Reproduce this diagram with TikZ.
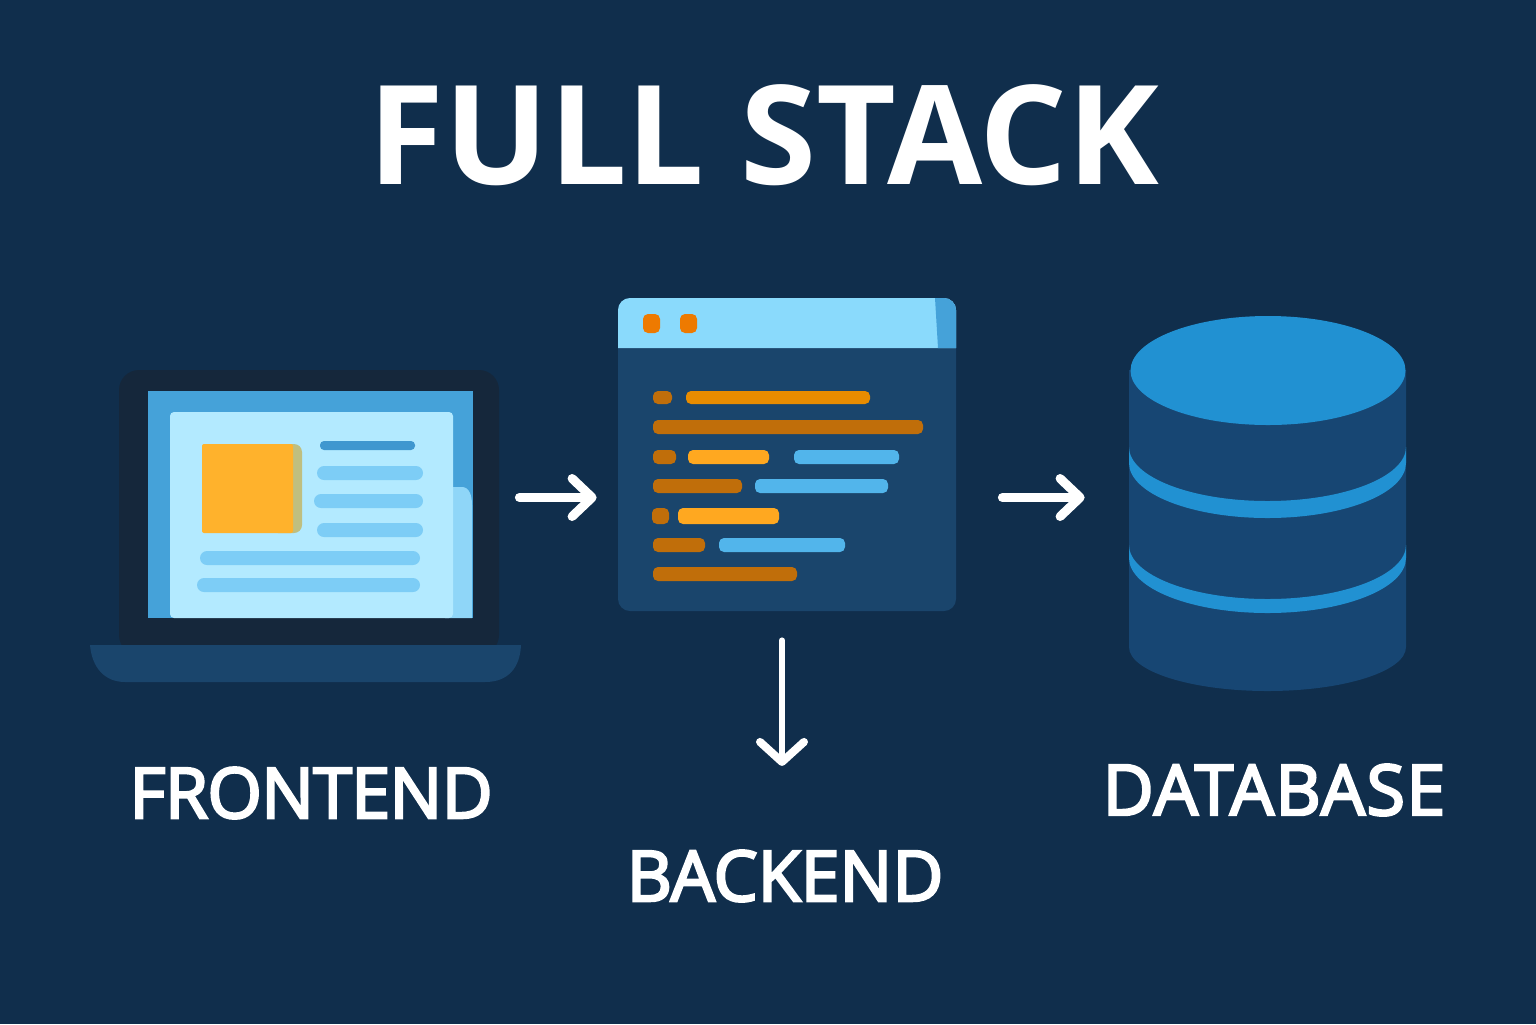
\documentclass[tikz,border=0pt]{standalone}
\usepackage{fontspec}
\setsansfont{Open Sans}[FakeBold=3.5]
\newfontfamily\titlefont{Open Sans}[BoldFont={Open Sans Bold}]
\definecolor{bgblue}{RGB}{16, 46, 76}
\definecolor{lidgray}{RGB}{21, 39, 59}
\definecolor{panelblue}{RGB}{26, 69, 108}
\definecolor{dbbody}{RGB}{23, 70, 115}
\definecolor{dbtop}{RGB}{33, 145, 210}
\definecolor{screenblue}{RGB}{69, 162, 217}
\definecolor{pageblue}{RGB}{179, 234, 255}
\definecolor{stripblue}{RGB}{143, 214, 248}
\definecolor{lineblue}{RGB}{125, 205, 246}
\definecolor{darkline}{RGB}{63, 151, 207}
\definecolor{headblue}{RGB}{138, 218, 252}
\definecolor{codeblue}{RGB}{82, 181, 235}
\definecolor{imgorange}{RGB}{255, 178, 44}
\definecolor{imgshadow}{RGB}{191, 191, 128}
\definecolor{dotorange}{RGB}{238, 122, 0}
\definecolor{codebrown}{RGB}{192, 110, 10}
\definecolor{codeorange}{RGB}{232, 140, 0}
\definecolor{codeyellow}{RGB}{255, 168, 32}
\usetikzlibrary{arrows.meta, positioning}
\tikzset{
	lidbox/.style={rectangle, rounded corners=10pt, fill=lidgray, inner sep=0pt, minimum width=190pt, minimum height=142.5pt},
	windowbox/.style={rectangle, rounded corners=6pt, fill=panelblue, inner sep=0pt, minimum width=169pt, minimum height=156.5pt},
	dbbox/.style={rectangle, inner sep=0pt, minimum width=138.5pt, minimum height=187.5pt},
	titletext/.style={font=\titlefont\bfseries\fontsize{69}{69}\selectfont, text=white, inner sep=0pt},
	labeltext/.style={font=\sffamily\fontsize{35}{35}\selectfont, text=white, inner sep=0pt},
	arrow/.style={-{Straight Barb[length=10pt, width=19pt, round, line width=4.5pt]}, line width=4.5pt, line cap=round, draw=white},
	softarrow/.style={-{Straight Barb[length=10pt, width=22pt, round, line width=4pt]}, line width=3pt, line cap=round, draw=white},
}
\begin{document}
\begin{tikzpicture}[x=0.5pt, y=-0.5pt]
	\fill[bgblue] (0,0) rectangle (1536,1024);
	\useasboundingbox (0,0) rectangle (1536,1024);
	\node[titletext] (title) at (764,135) {FULL STACK};
	% laptop
	\node[lidbox] (laptop) at (309,512.5) {};
	\fill[panelblue] (90,645) .. controls (92,668) and (105,682) .. (125,682) -- (485,682) .. controls (508,682) and (520,668) .. (521,645) -- cycle;
	\fill[screenblue] (148,391) rectangle (473,618);
	\fill[stripblue] (445,618) -- (445,487) -- (462,487) .. controls (469,487) and (472,495) .. (472,505) -- (472,618) -- cycle;
	\fill[pageblue, rounded corners=2pt] (170,618) -- (170,412) -- (453,412) -- (453,618) -- cycle;
	\fill[imgshadow, rounded corners=4pt] (270,444) rectangle (302,533);
	\fill[imgorange, rounded corners=1pt] (202,444) rectangle (293,533);
	\fill[darkline, rounded corners=2pt] (320,441) rectangle (415,450);
	\foreach \xa/\xb/\ya in {317/423/466, 314/423/494, 317/423/523, 200/420/551, 197/420/578}
		\fill[lineblue, rounded corners=3.5pt] (\xa,\ya) rectangle (\xb,\ya+14);
	% code window
	\node[windowbox] (codewin) at (787,454.5) {};
	\fill[headblue] (618,348) -- (618,310) arc[start angle=180, end angle=270, radius=12] -- (944,298) arc[start angle=270, end angle=360, radius=12] -- (956,348) -- cycle;
	\fill[screenblue] (935,298) -- (944,298) arc[start angle=270, end angle=360, radius=12] -- (956,348) -- (938,348) -- cycle;
	\foreach \xa in {643, 680}
		\fill[dotorange, rounded corners=2.5pt] (\xa,314) rectangle (\xa+17,333);
	\foreach \xa/\xb/\ya/\hh/\barcol in {653/672/391/13/codebrown, 686/870/391/13/codeorange, 653/923/420/14/codebrown,
		653/676/450/14/codebrown, 688/769/450/14/codeyellow, 794/899/450/14/codeblue,
		653/742/479/14/codebrown, 755/888/479/14/codeblue,
		652/669/508/16/codebrown, 678/779/508/16/codeyellow,
		653/705/538/14/codebrown, 719/845/538/14/codeblue, 653/797/567/14/codebrown}
		\fill[\barcol, rounded corners=2.5pt] (\xa,\ya) rectangle (\xb,\ya+\hh);
	% database
	\node[dbbox] (db) at (1267.5,503.5) {};
	\fill[dbbody] (1129,370) -- (1406,370) -- (1406,647) arc[start angle=0, end angle=180, x radius=138.5, y radius=44] -- cycle;
	\foreach \ya/\yb in {447/463, 545/558}
		\fill[dbtop] (1129,\ya) arc[start angle=180, end angle=0, x radius=138.5, y radius=54]
			-- (1406,\yb) arc[start angle=0, end angle=180, x radius=138.5, y radius=55] -- cycle;
	\fill[dbtop] (1268,370.5) ellipse[x radius=137.5, y radius=54.5];
	% labels
	\node[labeltext] (frontend) at (311,793) {\addfontfeature{LetterSpace=-1}FRONTEND};
	\node[labeltext] (backend) at (785,876) {BACKEND};
	\node[labeltext] (database) at (1274,790) {\addfontfeature{LetterSpace=2}DATABASE};
	% connectors
	\draw[arrow, shorten <=10pt, shorten >=10.5pt] ([yshift=7.5pt]laptop.east) -- ([yshift=7.5pt]laptop.east -| codewin.west);
	\draw[arrow, shorten <=23pt, shorten >=22pt] ([yshift=-21.5pt]codewin.east) -- ([yshift=-21.5pt]codewin.east -| db.west);
	\draw[softarrow, shorten <=14.5pt, shorten >=42pt] ([xshift=-2.5pt]codewin.south) -- ([xshift=-2.5pt]codewin.south |- backend.north);
\end{tikzpicture}
\end{document}
